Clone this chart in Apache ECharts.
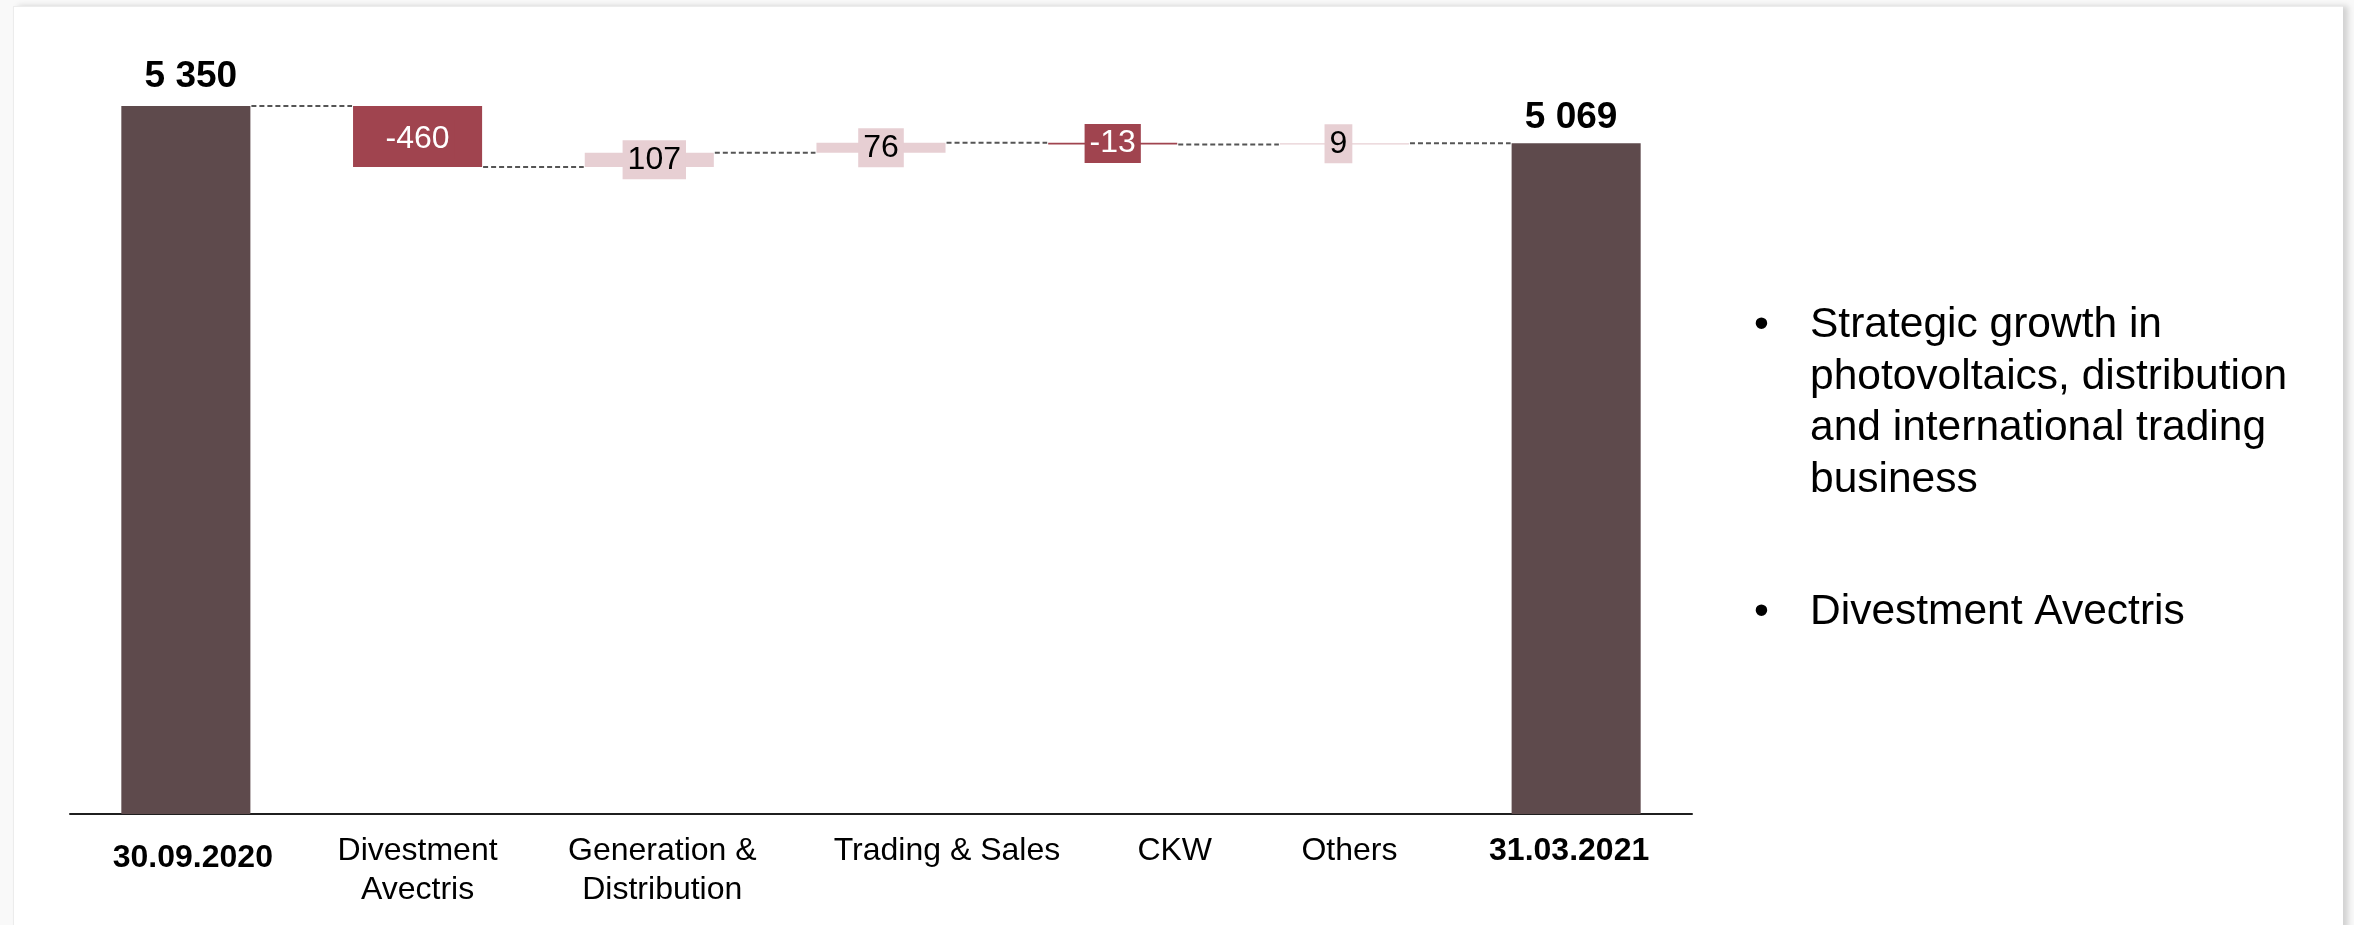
<!DOCTYPE html>
<html>
<head>
<meta charset="utf-8">
<title>Equity bridge 30.09.2020 – 31.03.2021</title>
<script src="https://cdn.jsdelivr.net/npm/echarts@6/dist/echarts.min.js"></script>
<style>
  html, body { margin: 0; padding: 0; width: 2354px; height: 925px; overflow: hidden; background: #f9f9f9; }
  #panel {
    position: absolute; left: 13px; top: 6px; width: 2329px; height: 1000px;
    background: #ffffff; border-top: 1px solid #ececec; border-left: 1px solid #ececec;
    box-shadow: 5px 0 6px rgba(0, 0, 0, 0.16);
  }
  #chart { position: absolute; left: 0; top: 0; width: 2354px; height: 925px; }
</style>
</head>
<body>
<div id="panel"></div>
<div id="chart"></div>
<script>
// Bridge categories (first and last are totals)
const categories = ['30.09.2020', 'Divestment\nAvectris', 'Generation &\nDistribution', 'Trading & Sales', 'CKW', 'Others', '31.03.2021'];
const openingTotal = 5350;
const changes = [-460, 107, 76, -13, 9];
const closingTotal = 5069;
const bulletPoints = [
  'Strategic growth in\nphotovoltaics, distribution\nand international trading\nbusiness',
  'Divestment Avectris'
];

const FONT = '"Liberation Sans", Arial, Helvetica, sans-serif';
const COLOR_TOTAL = '#5e4a4c';
const COLOR_NEG = '#a0444f';
const COLOR_POS = '#e7cfd3';
const BAR_RATIO = 0.557;

// horizontal nudges of the category captions (text boxes are not all centred)
const captionPadding = [[7, 0, 0, 14], 0, [0, 0, 0, 26], [0, 0, 0, 132], [0, 0, 0, 124], [0, 0, 0, 10], [0, 14, 0, 0]];
// horizontal nudges of the value boxes on the change bars
const changeLabelShift = [0, 5, 0, 0, -6];

// running levels after each step
const levels = [openingTotal];
changes.forEach(c => levels.push(levels[levels.length - 1] + c));

const fmtThousands = v => String(v).replace(/\B(?=(\d{3})+(?!\d))/g, ' ');

const totalLabel = (distance, dx) => ({
  show: true, position: 'top', distance: distance, offset: [dx, 0],
  formatter: p => fmtThousands(p.value),
  fontSize: 37, fontWeight: 'bold', color: '#000', fontFamily: FONT
});

// invisible base + visible segment for the stacked waterfall
const baseData = [0];
const segData = [];
segData.push({ value: openingTotal, itemStyle: { color: COLOR_TOTAL }, label: totalLabel(11, 5) });
changes.forEach((c, i) => {
  const from = levels[i], to = levels[i + 1];
  baseData.push(Math.min(from, to));
  const neg = c < 0;
  segData.push({
    value: Math.abs(c),
    itemStyle: { color: neg ? COLOR_NEG : COLOR_POS },
    label: {
      show: true, position: 'inside', offset: [changeLabelShift[i], i === 0 ? 3 : 0],
      formatter: () => String(c),
      fontSize: 32, lineHeight: 33, fontFamily: FONT,
      color: neg ? '#ffffff' : '#000000',
      backgroundColor: neg ? COLOR_NEG : COLOR_POS,
      padding: [3, 5]
    }
  });
});
baseData.push(0);
segData.push({ value: closingTotal, itemStyle: { color: COLOR_TOTAL }, label: totalLabel(7, -5) });

// dashed connectors between neighbouring bars at the running level
const connectorData = levels.map((lv, i) => [i, lv]);

const axisData = categories.map((c, i) => {
  const isTotal = i === 0 || i === categories.length - 1;
  const ts = { padding: captionPadding[i] };
  if (isTotal) ts.fontWeight = 'bold';
  return { value: c, textStyle: ts };
});

const chart = echarts.init(document.getElementById('chart'), null, { renderer: 'canvas' });

const bulletGraphics = [];
const bulletTops = [300, 587];
bulletPoints.forEach((t, i) => {
  bulletGraphics.push({
    type: 'text', left: 1754, top: bulletTops[i],
    style: { text: '•', font: '42.5px ' + FONT, fill: '#000', lineHeight: 51.5 }
  });
  bulletGraphics.push({
    type: 'text', left: 1810, top: bulletTops[i],
    style: { text: t, font: '42.5px ' + FONT, fill: '#000', lineHeight: 51.5 }
  });
});

chart.setOption({
  backgroundColor: 'transparent',
  animation: false,
  textStyle: { fontFamily: FONT },
  grid: { left: 70, right: 662, top: 20, bottom: 111, containLabel: false },
  xAxis: {
    type: 'category',
    data: axisData,
    axisLine: { show: true, lineStyle: { color: '#1f1f1f', width: 2 } },
    axisTick: { show: false },
    axisLabel: { interval: 0, fontSize: 32, lineHeight: 39, color: '#000', margin: 18, fontFamily: FONT }
  },
  yAxis: {
    type: 'value', min: 0, max: 6000,
    show: false, splitLine: { show: false }
  },
  graphic: bulletGraphics,
  series: [
    {
      type: 'custom',
      name: 'connector',
      z: 1,
      data: connectorData,
      renderItem: (params, api) => {
        const p = api.coord([api.value(0), api.value(1)]);
        const band = api.size([1, 0])[0];
        const half = band * BAR_RATIO / 2;
        return {
          type: 'line',
          shape: { x1: p[0] + half + 1, y1: p[1], x2: p[0] + band - half - 1, y2: p[1] },
          style: { stroke: '#555555', lineWidth: 2, lineDash: [5, 3] }
        };
      }
    },
    {
      type: 'bar', name: 'base', stack: 'bridge', z: 2,
      barWidth: (BAR_RATIO * 100) + '%',
      itemStyle: { color: 'transparent' },
      emphasis: { disabled: true },
      data: baseData
    },
    {
      type: 'bar', name: 'change', stack: 'bridge', z: 3,
      barWidth: (BAR_RATIO * 100) + '%',
      emphasis: { disabled: true },
      data: segData
    }
  ]
});
</script>
</body>
</html>
